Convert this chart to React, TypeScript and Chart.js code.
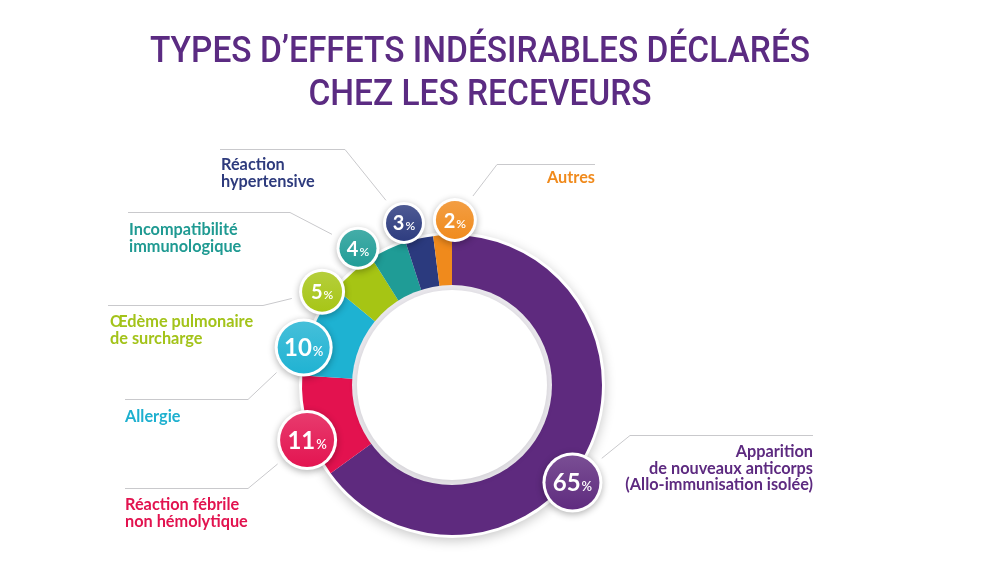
import React, { useEffect, useRef } from "react";
import { Chart, registerables } from "chart.js";

Chart.register(...registerables);

// ---- data ----
const categories = [
  "Apparition de nouveaux anticorps (Allo-immunisation isolée)",
  "Réaction fébrile non hémolytique",
  "Allergie",
  "Œdème pulmonaire de surcharge",
  "Incompatibilité immunologique",
  "Réaction hypertensive",
  "Autres",
];
const values = [65, 11, 10, 5, 4, 3, 2];
const labelLines = [
  ["Apparition", "de nouveaux anticorps", "(Allo-immunisation isolée)"],
  ["Réaction fébrile", "non hémolytique"],
  ["Allergie"],
  ["Œdème pulmonaire", "de surcharge"],
  ["Incompatibilité", "immunologique"],
  ["Réaction", "hypertensive"],
  ["Autres"],
];
const titleLines = ["TYPES D’EFFETS INDÉSIRABLES DÉCLARÉS", "CHEZ LES RECEVEURS"];

// ---- styles ----
const sliceColors = ["#5e2a7e", "#e3124f", "#1eb2d2", "#a6c514", "#1f9c96", "#2b3a7e", "#f08a1c"];
const labelColors = ["#5d2a80", "#e2134f", "#1eb0cf", "#a3c31a", "#1f9a92", "#2e3b7d", "#f08a1c"];
const badgeRadius = [30, 30, 29, 23, 21.5, 21, 22];
const badgeAngleOffset = [12, -4.6, -7.4, -12.9, -9.3, -3.9, 4.6];
const badgeGap = [5, 5, 3, 10, 16, 19, 15];
// label layout: text anchor x, first baseline y, alignment, leader line y and horizontal extent
const labelLayout = [
  { x: 813, y: 457, align: "right", lineY: 435, x1: 630, x2: 813 },
  { x: 125, y: 510, align: "left", lineY: 488, x1: 125, x2: 248 },
  { x: 125, y: 422, align: "left", lineY: 399, x1: 125, x2: 248 },
  { x: 110, y: 327, align: "left", lineY: 305, x1: 108, x2: 263 },
  { x: 129, y: 235, align: "left", lineY: 212, x1: 128, x2: 290 },
  { x: 221, y: 170, align: "left", lineY: 149, x1: 220, x2: 345 },
  { x: 595, y: 183, align: "right", lineY: 164, x1: 497, x2: 595 },
];

function lighten(hex: string, amt: number) {
  const n = parseInt(hex.slice(1), 16);
  const r = (n >> 16) & 255, g = (n >> 8) & 255, b = n & 255;
  const f = (c: number) => Math.round(c + (255 - c) * amt);
  return `rgb(${f(r)},${f(g)},${f(b)})`;
}

const decorPlugin = {
  id: "decor",
  beforeDatasetsDraw(chart: any) {
    const arc = chart.getDatasetMeta(0).data[0];
    if (!arc) return;
    const { x, y, outerRadius } = arc.getProps(["x", "y", "outerRadius"], true);
    const ctx = chart.ctx;
    ctx.save();
    ctx.shadowColor = "rgba(0,0,0,0.22)";
    ctx.shadowBlur = 12;
    ctx.shadowOffsetY = 3;
    ctx.fillStyle = "#ffffff";
    ctx.beginPath();
    ctx.arc(x, y, outerRadius + 3, 0, Math.PI * 2);
    ctx.fill();
    ctx.restore();
  },
  afterDatasetsDraw(chart: any) {
    const meta = chart.getDatasetMeta(0);
    const ctx = chart.ctx;
    const first = meta.data[0];
    if (!first) return;
    const { x: cx, y: cy, innerRadius } = first.getProps(["x", "y", "innerRadius"], true);

    // inner rim
    ctx.save();
    ctx.fillStyle = "#ebe9ee";
    ctx.beginPath();
    ctx.arc(cx, cy, innerRadius + 1, 0, Math.PI * 2);
    ctx.fill();
    ctx.shadowColor = "rgba(0,0,0,0.12)";
    ctx.shadowBlur = 8;
    ctx.shadowOffsetY = 2;
    ctx.fillStyle = "#ffffff";
    ctx.beginPath();
    ctx.arc(cx, cy, innerRadius - 4, 0, Math.PI * 2);
    ctx.fill();
    ctx.restore();

    const badges = meta.data.map((el: any, i: number) => {
      const p = el.getProps(["x", "y", "startAngle", "endAngle", "outerRadius"], true);
      const a = (p.startAngle + p.endAngle) / 2 + (badgeAngleOffset[i] * Math.PI) / 180;
      const d = p.outerRadius + badgeGap[i];
      return { x: p.x + d * Math.cos(a), y: p.y + d * Math.sin(a), r: badgeRadius[i] };
    });

    // leader lines
    ctx.save();
    ctx.strokeStyle = "#c9c9cc";
    ctx.lineWidth = 1;
    labelLayout.forEach((L, i) => {
      const b = badges[i];
      const kx = L.align === "right" ? L.x1 : L.x2;
      const ky = L.lineY;
      const dx = kx - b.x, dy = ky - b.y;
      const len = Math.hypot(dx, dy);
      const ex = b.x + (dx / len) * (b.r + 8);
      const ey = b.y + (dy / len) * (b.r + 8);
      ctx.beginPath();
      const ox = L.align === "right" ? L.x2 : L.x1;
      ctx.moveTo(ox, ky + 0.5);
      ctx.lineTo(kx, ky + 0.5);
      ctx.lineTo(ex, ey);
      ctx.stroke();
    });
    ctx.restore();

    // badges
    badges.forEach((b: any, i: number) => {
      const col = sliceColors[i];
      ctx.save();
      ctx.shadowColor = "rgba(0,0,0,0.3)";
      ctx.shadowBlur = 7;
      ctx.shadowOffsetY = 2;
      ctx.fillStyle = "#ffffff";
      ctx.beginPath();
      ctx.arc(b.x, b.y, b.r, 0, Math.PI * 2);
      ctx.fill();
      ctx.restore();
      ctx.save();
      const g = ctx.createLinearGradient(b.x, b.y - b.r, b.x, b.y + b.r);
      g.addColorStop(0, lighten(col, 0.18));
      g.addColorStop(1, col);
      ctx.fillStyle = g;
      ctx.beginPath();
      ctx.arc(b.x, b.y, b.r - 3, 0, Math.PI * 2);
      ctx.fill();
      // text
      const num = String(values[i]);
      const big = b.r > 26;
      const nf = `700 ${big ? 24 : 20}px Lato, "DejaVu Sans", sans-serif`;
      const pf = `600 ${big ? 13 : 12}px Lato, "DejaVu Sans", sans-serif`;
      ctx.font = nf;
      const nw = ctx.measureText(num).width;
      ctx.font = pf;
      const pw = ctx.measureText("%").width;
      const sx = b.x - (nw + pw + 1) / 2;
      const by = b.y + (big ? 8.5 : 7.5);
      ctx.fillStyle = "#ffffff";
      ctx.textBaseline = "alphabetic";
      ctx.textAlign = "left";
      ctx.font = nf;
      ctx.fillText(num, sx, by);
      ctx.font = pf;
      ctx.fillText("%", sx + nw + 1, by);
      ctx.restore();
    });

    // labels
    ctx.save();
    ctx.font = `700 16.3px Lato, "DejaVu Sans", sans-serif`;
    ctx.textBaseline = "alphabetic";
    labelLayout.forEach((L, i) => {
      ctx.fillStyle = labelColors[i];
      ctx.textAlign = L.align as CanvasTextAlign;
      labelLines[i].forEach((t, j) => {
        ctx.fillText(t, L.x, L.y + j * 16.5);
      });
    });
    ctx.restore();
  },
};

export default function App() {
  const ref = useRef<HTMLCanvasElement | null>(null);
  useEffect(() => {
    if (!ref.current) return;
    const chart = new Chart(ref.current, {
      type: "doughnut",
      data: {
        labels: categories,
        datasets: [
          {
            data: values,
            backgroundColor: sliceColors,
            borderWidth: 0,
            hoverOffset: 0,
          },
        ],
      },
      options: {
        responsive: false,
        animation: false,
        cutout: "66%",
        layout: { padding: { left: 302, right: 398, top: 235, bottom: 28 } },
        plugins: { legend: { display: false }, tooltip: { enabled: false } },
        events: [],
      },
      plugins: [decorPlugin],
    });
    return () => chart.destroy();
  }, []);
  return (
    <div style={{ position: "absolute", left: 0, top: 0, width: 1000, height: 563, background: "#ffffff", overflow: "hidden" }}>
      <canvas ref={ref} width={1000} height={563} style={{ position: "absolute", left: 0, top: 0, width: 1000, height: 563 }} />
      <div
        style={{
          position: "absolute",
          left: 0,
          top: 28,
          width: 960,
          textAlign: "center",
          fontFamily: 'Roboto, "DejaVu Sans", sans-serif',
          fontWeight: 500,
          fontSize: 37,
          lineHeight: "43px",
          color: "#5b2b82",
          transform: "scaleX(0.905)",
          transformOrigin: "480px 0px",
          whiteSpace: "nowrap",
        }}
      >
        {titleLines.map((t) => (
          <div key={t}>{t}</div>
        ))}
      </div>
    </div>
  );
}
